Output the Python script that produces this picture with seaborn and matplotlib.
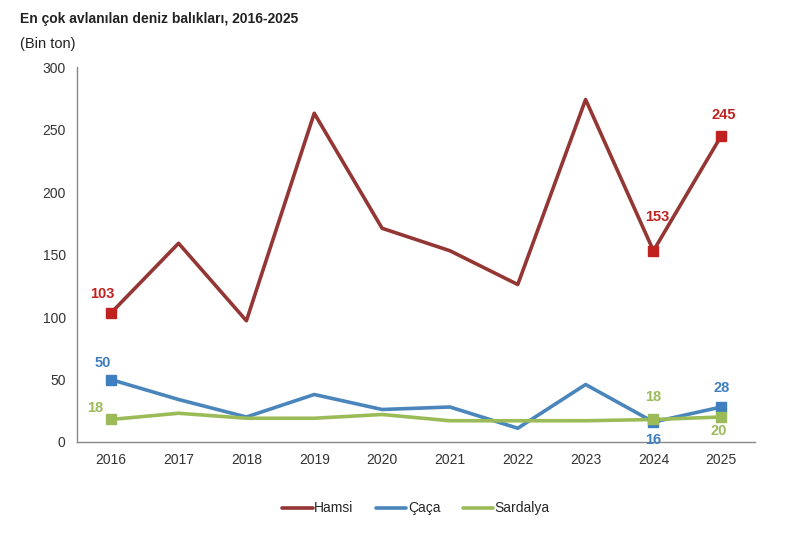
import pandas as pd
import numpy as np
import seaborn as sns
import matplotlib.pyplot as plt

# Data
years = [2016, 2017, 2018, 2019, 2020, 2021, 2022, 2023, 2024, 2025]
hamsi = [103, 159, 97, 263, 171, 153, 126, 274, 153, 245]
caca = [50, 34, 20, 38, 26, 28, 11, 46, 16, 28]
sardalya = [18, 23, 19, 19, 22, 17, 17, 17, 18, 20]
labeled_years = [2016, 2024, 2025]

series = {"Hamsi": hamsi, "Çaça": caca, "Sardalya": sardalya}
line_colors = {"Hamsi": "#943634", "Çaça": "#4A86BC", "Sardalya": "#9BBB59"}
mark_colors = {"Hamsi": "#C0231F", "Çaça": "#3F7FBF", "Sardalya": "#9BBB59"}

rows = []
for name, vals in series.items():
    for i, (yr, v) in enumerate(zip(years, vals)):
        rows.append({"idx": i, "year": yr, "value": v, "series": name})
df = pd.DataFrame(rows)

sns.set_style("white")
plt.rcParams['font.family'] = ['Liberation Sans', 'DejaVu Sans']

fig = plt.figure(figsize=(8, 5.45), dpi=100)
ax = fig.add_axes([0.096, 0.189, 0.848, 0.688])

sns.lineplot(data=df, x="idx", y="value", hue="series", palette=line_colors,
             linewidth=2.6, ax=ax, legend=True)

# square markers + value labels on selected years (offsets in points)
label_offsets = {
    ("Hamsi", 2016): (-6, 14), ("Hamsi", 2024): (3, 24), ("Hamsi", 2025): (2, 15),
    ("Çaça", 2016): (-6, 12), ("Çaça", 2024): (0, -13), ("Çaça", 2025): (0, 14),
    ("Sardalya", 2016): (-11, 8), ("Sardalya", 2024): (0, 16), ("Sardalya", 2025): (-2, -10),
}
sub = df[df["year"].isin(labeled_years)]
for _, r in sub.iterrows():
    ax.plot(r["idx"], r["value"], marker="s", markersize=7,
            color=mark_colors[r["series"]], zorder=5)
    key = (r["series"], r["year"])
    ax.annotate(str(r["value"]), (r["idx"], r["value"]),
                xytext=label_offsets[key], textcoords="offset points",
                ha="center", va="center", fontsize=10.5, fontweight="bold",
                color=mark_colors[r["series"]])

ax.set_xlim(-0.5, len(years) - 0.5)
ax.set_ylim(0, 300)
ax.set_yticks(range(0, 301, 50))
ax.set_xticks(range(len(years)))
ax.set_xticklabels(years)
ax.set_xticks(np.arange(-0.5, len(years), 1), minor=True)
ax.tick_params(axis="x", which="major", length=0, pad=8, labelsize=10, colors="#333333")
ax.tick_params(axis="x", which="minor", length=5, color="#888888", direction="out")
ax.tick_params(axis="y", length=4, color="#888888", direction="out", labelsize=10,
               labelcolor="#333333", pad=4)
for s in ["top", "right"]:
    ax.spines[s].set_visible(False)
for s in ["left", "bottom"]:
    ax.spines[s].set_color("#888888")
    ax.spines[s].set_linewidth(1)
ax.set_xlabel("")
ax.set_ylabel("")

handles, labels = ax.get_legend_handles_labels()
ax.legend(handles, labels, loc="upper center", bbox_to_anchor=(0.5, -0.125),
          ncol=3, frameon=False, fontsize=10, handlelength=2.2,
          handletextpad=0.1, columnspacing=1.6)

fig.text(0.025, 0.965, "En çok avlanılan deniz balıkları, 2016-2025",
         fontsize=10, fontweight="bold", color="#222222", va="center")
fig.text(0.025, 0.92, "(Bin ton)", fontsize=10.5, color="#222222", va="center")

plt.savefig("out.png", dpi=100)
